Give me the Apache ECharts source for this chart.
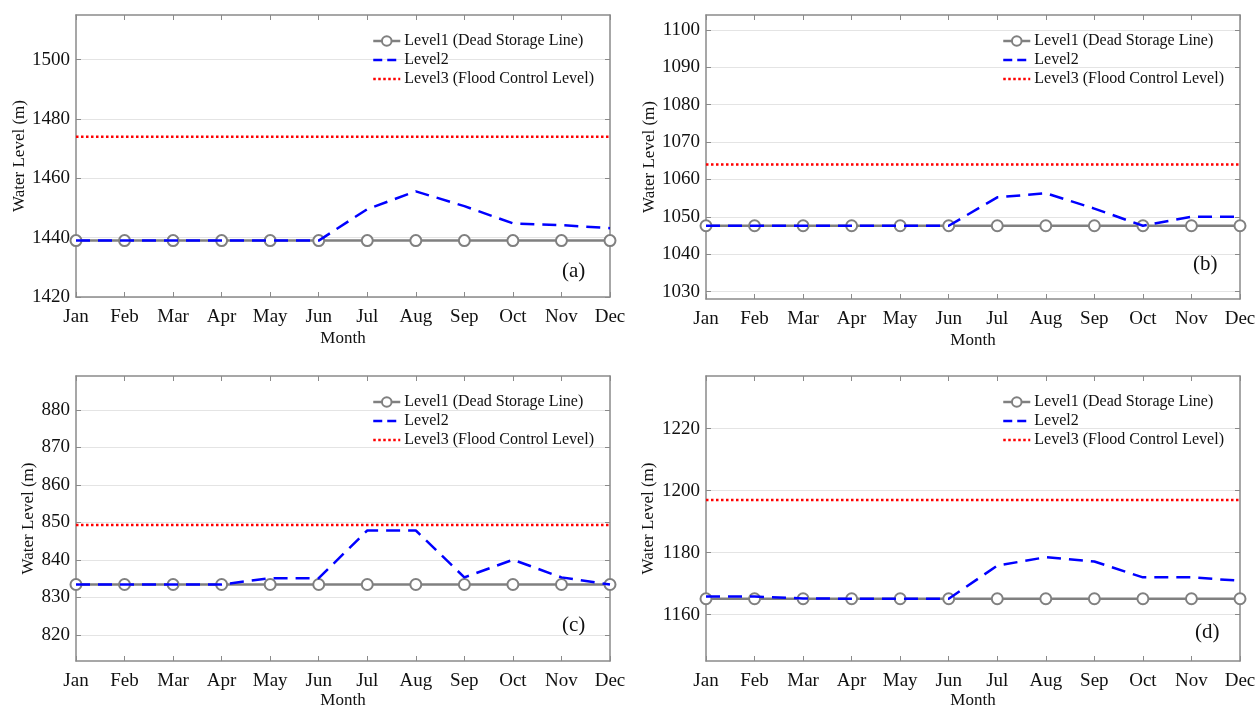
<!DOCTYPE html>
<html><head><meta charset="utf-8">
<script src="https://cdn.jsdelivr.net/npm/echarts@6/dist/echarts.min.js"></script>
<style>html,body{margin:0;padding:0;background:#fff}#c{width:1255px;height:707px}</style>
</head><body><div id="c"></div>
<script>
const months = ['Jan','Feb','Mar','Apr','May','Jun','Jul','Aug','Sep','Oct','Nov','Dec'];
const seriesNames = ['Level1 (Dead Storage Line)','Level2','Level3 (Flood Control Level)'];
const panelLabels = ['(a)','(b)','(c)','(d)'];

// Panel (a)
const level1A = [1439,1439,1439,1439,1439,1439,1439,1439,1439,1439,1439,1439];
const level2A = [1439,1439,1439,1439,1439,1439,1449.6,1455.6,1450.6,1444.8,1444.2,1443.2];
const level3A = [1474,1474,1474,1474,1474,1474,1474,1474,1474,1474,1474,1474];
const ticksA = [1420,1440,1460,1480,1500];
// Panel (b)
const level1B = [1047.6,1047.6,1047.6,1047.6,1047.6,1047.6,1047.6,1047.6,1047.6,1047.6,1047.6,1047.6];
const level2B = [1047.6,1047.6,1047.6,1047.6,1047.6,1047.6,1055.2,1056.3,1052.2,1047.6,1050,1050];
const level3B = [1064,1064,1064,1064,1064,1064,1064,1064,1064,1064,1064,1064];
const ticksB = [1030,1040,1050,1060,1070,1080,1090,1100];
// Panel (c)
const level1C = [833.4,833.4,833.4,833.4,833.4,833.4,833.4,833.4,833.4,833.4,833.4,833.4];
const level2C = [833.4,833.4,833.4,833.4,835.1,835.1,847.8,847.8,835.3,840,835.3,833.4];
const level3C = [849.3,849.3,849.3,849.3,849.3,849.3,849.3,849.3,849.3,849.3,849.3,849.3];
const ticksC = [820,830,840,850,860,870,880];
// Panel (d)
const level1D = [1165.1,1165.1,1165.1,1165.1,1165.1,1165.1,1165.1,1165.1,1165.1,1165.1,1165.1,1165.1];
const level2D = [1165.8,1165.8,1165.2,1165.1,1165.1,1165.1,1175.8,1178.5,1177.1,1172,1172,1170.9];
const level3D = [1197,1197,1197,1197,1197,1197,1197,1197,1197,1197,1197,1197];
const ticksD = [1160,1180,1200,1220];

const yMin = [1420, 1028, 813, 1145];
const yMax = [1515, 1104, 889, 1237];
const yTicks = [ticksA, ticksB, ticksC, ticksD];
const dataL1 = [level1A, level1B, level1C, level1D];
const dataL2 = [level2A, level2B, level2C, level2D];
const dataL3 = [level3A, level3B, level3C, level3D];

const FONT = 'Liberation Serif';
const AXIS_COLOR = '#8a8a8a';
const grids = [
  {left: 76, top: 15, width: 534, height: 282},
  {left: 706, top: 15, width: 534, height: 284},
  {left: 76, top: 376, width: 534, height: 285},
  {left: 706, top: 376, width: 534, height: 285}
];
const nameGaps = [47, 47, 39, 49];
const monthGaps = [33, 33, 31, 31];
// panel-tag placement: center x and distance of center above the plot bottom
const tagX = [574, 1205, 574, 1207];
const tagUp = [25, 34, 35, 28];

const option = {
  backgroundColor: '#fff',
  animation: false,
  grid: [], xAxis: [], yAxis: [], series: [], legend: [], graphic: []
};

for (let i = 0; i < 4; i++) {
  const g = grids[i];
  option.grid.push({left: g.left, top: g.top, width: g.width, height: g.height,
    containLabel: false, outerBoundsMode: 'none'});
  const tickStyle = {show: true, inside: true, length: 5, lineStyle: {color: AXIS_COLOR, width: 1}};
  option.xAxis.push({
    type: 'category', gridIndex: i, data: months, boundaryGap: false, position: 'bottom',
    axisLine: {show: true, lineStyle: {color: AXIS_COLOR, width: 1.5}},
    axisTick: Object.assign({alignWithLabel: true}, tickStyle),
    axisLabel: {color: '#111', fontFamily: FONT, fontSize: 19, margin: 11, interval: 0},
    splitLine: {show: false},
    name: 'Month', nameLocation: 'middle', nameGap: monthGaps[i],
    nameTextStyle: {color: '#111', fontFamily: FONT, fontSize: 17}
  });
  option.xAxis.push({
    type: 'category', gridIndex: i, data: months, boundaryGap: false, position: 'top',
    axisLine: {show: true, lineStyle: {color: AXIS_COLOR, width: 1.5}},
    axisTick: tickStyle, axisLabel: {show: false}, splitLine: {show: false}
  });
  option.yAxis.push({
    type: 'value', gridIndex: i, min: yMin[i], max: yMax[i], position: 'left',
    axisLine: {show: true, lineStyle: {color: AXIS_COLOR, width: 1.5}},
    axisTick: Object.assign({customValues: yTicks[i]}, tickStyle),
    axisLabel: {customValues: yTicks[i], color: '#111', fontFamily: FONT, fontSize: 19, margin: 6,
      formatter: v => String(v)},
    splitLine: {show: true, lineStyle: {color: '#e4e4e4', width: 1}},
    name: 'Water Level (m)', nameLocation: 'middle', nameGap: nameGaps[i], nameRotate: 90,
    nameTextStyle: {color: '#111', fontFamily: FONT, fontSize: 17}
  });
  option.yAxis.push({
    type: 'value', gridIndex: i, min: yMin[i], max: yMax[i], position: 'right',
    axisLine: {show: true, lineStyle: {color: AXIS_COLOR, width: 1.5}},
    axisTick: Object.assign({customValues: yTicks[i]}, tickStyle),
    axisLabel: {show: false}, splitLine: {show: false}
  });
  option.series.push({
    name: seriesNames[0], type: 'line', xAxisIndex: 2*i, yAxisIndex: 2*i, data: dataL1[i],
    symbol: 'emptyCircle', symbolSize: 11, z: 3,
    lineStyle: {color: '#808080', width: 2.5},
    itemStyle: {color: '#808080', borderColor: '#808080', borderWidth: 2.5}
  });
  option.series.push({
    name: seriesNames[1], type: 'line', xAxisIndex: 2*i, yAxisIndex: 2*i, data: dataL2[i],
    symbol: 'none', showSymbol: false, z: 4,
    lineStyle: {color: '#0000ff', width: 2.5, type: [14, 8]},
    itemStyle: {color: '#0000ff'}
  });
  option.series.push({
    name: seriesNames[2], type: 'line', xAxisIndex: 2*i, yAxisIndex: 2*i, data: dataL3[i],
    symbol: 'none', showSymbol: false, z: 2,
    lineStyle: {color: '#ff0000', width: 2.5, type: [2.5, 2.5]},
    itemStyle: {color: '#ff0000'}
  });
  option.legend.push({
    orient: 'vertical', left: g.left + 296, top: g.top + 18, padding: 0,
    itemWidth: 27, itemHeight: 12, itemGap: 3,
    data: [
      {name: seriesNames[0], lineStyle: {width: 2.5}},
      {name: seriesNames[1], itemStyle: {opacity: 0}, lineStyle: {type: [9, 5], width: 2.5}},
      {name: seriesNames[2], itemStyle: {opacity: 0}, lineStyle: {width: 2.5}}
    ],
    textStyle: {color: '#111', fontFamily: FONT, fontSize: 16, padding: [0,0,0,-1]},
    selectedMode: false
  });
  option.graphic.push({
    type: 'text', left: tagX[i] - 12, top: g.top + g.height - tagUp[i] - 11,
    style: {text: panelLabels[i], font: '21px "Liberation Serif"', fill: '#111'}
  });
}

const chart = echarts.init(document.getElementById('c'), null, {renderer: 'canvas'});
chart.setOption(option);
</script>
</body></html>
